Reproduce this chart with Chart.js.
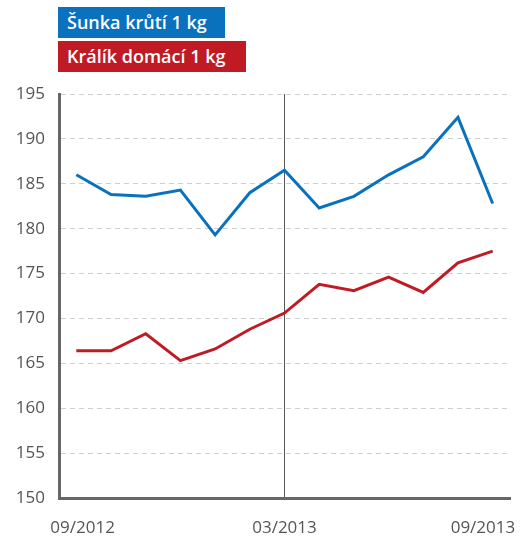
<!DOCTYPE html>
<html>
<head>
<meta charset="utf-8">
<script src="https://cdn.jsdelivr.net/npm/chart.js@4.4.0/dist/chart.umd.min.js"></script>
<style>
  html, body { margin: 0; padding: 0; background: #fff; }
  #wrap { position: relative; width: 524px; height: 537px; }
  .key {
    position: absolute; left: 58px; height: 31px; line-height: 31px;
    padding-left: 9px; box-sizing: border-box; color: #fff;
    font-family: "Open Sans", sans-serif; font-size: 18px; font-weight: 600;
    white-space: nowrap;
  }
</style>
</head>
<body>
<div id="wrap">
  <canvas id="chart" width="524" height="537"></canvas>
  <div class="key" id="key0" style="top:7px;width:167px;"></div>
  <div class="key" id="key1" style="top:41px;width:188px;"></div>
</div>
<script>
// monthly points, 09/2012 .. 09/2013
const months = ['09/2012', '10/2012', '11/2012', '12/2012', '01/2013', '02/2013', '03/2013',
                '04/2013', '05/2013', '06/2013', '07/2013', '08/2013', '09/2013'];
const seriesNames = ['Šunka krůtí 1 kg', 'Králík domácí 1 kg'];
const seriesColors = ['#0a71bf', '#c01b25'];
const sunka = [186.0, 183.8, 183.6, 184.3, 179.3, 184.0, 186.5, 182.3, 183.6, 186.0, 188.0, 192.4, 182.8];
const kralik = [166.4, 166.4, 168.3, 165.3, 166.6, 168.8, 170.6, 173.8, 173.1, 174.6, 172.9, 176.2, 177.5];
// x labels shown under the axis and where they sit (category index)
const xLabels = ['09/2012', '03/2013', '09/2013'];
const xLabelPos = [0.18, 6, 11.72];
const markIndex = 6; // vertical line at 03/2013

document.getElementById('key0').textContent = seriesNames[0];
document.getElementById('key0').style.background = seriesColors[0];
document.getElementById('key1').textContent = seriesNames[1];
document.getElementById('key1').style.background = seriesColors[1];

const tickFont = { family: '"Open Sans", sans-serif', size: 17 };

new Chart(document.getElementById('chart'), {
  type: 'line',
  data: {
    labels: months,
    datasets: [
      { label: seriesNames[0], data: sunka, borderColor: seriesColors[0], borderWidth: 3, pointRadius: 0, tension: 0 },
      { label: seriesNames[1], data: kralik, borderColor: seriesColors[1], borderWidth: 3, pointRadius: 0, tension: 0 }
    ]
  },
  options: {
    responsive: false,
    animation: false,
    layout: { padding: { left: 0, top: 94, right: 14, bottom: 0 } },
    plugins: { legend: { display: false }, tooltip: { enabled: false } },
    scales: {
      x: {
        type: 'category',
        offset: true,
        display: false
      },
      xl: {
        type: 'linear',
        position: 'bottom',
        min: -0.5,
        max: months.length - 0.5,
        afterBuildTicks: s => { s.ticks = xLabelPos.map(v => ({ value: v })); },
        afterFit: s => { s.height = 39; s.paddingLeft = 0; s.paddingRight = 0; },
        grid: {
          drawTicks: false,
          lineWidth: 1,
          color: c => (c.tick && Math.abs(c.tick.value - markIndex) < 0.01) ? '#555' : 'rgba(0,0,0,0)'
        },
        border: { display: true, color: '#666', width: 3 },
        ticks: {
          autoSkip: false,
          maxRotation: 0,
          padding: 20,
          color: '#555',
          font: tickFont,
          callback: (v) => xLabels[xLabelPos.indexOf(v)]
        }
      },
      y: {
        min: 150,
        max: 195,
        afterFit: s => { s.width = 59; },
        grid: { drawTicks: false, color: '#cfcfcf', lineWidth: 1 },
        border: { display: true, color: '#666', width: 3, dash: [5, 4] },
        ticks: { stepSize: 5, padding: 14, color: '#555', font: tickFont }
      }
    }
  }
});
</script>
</body>
</html>
